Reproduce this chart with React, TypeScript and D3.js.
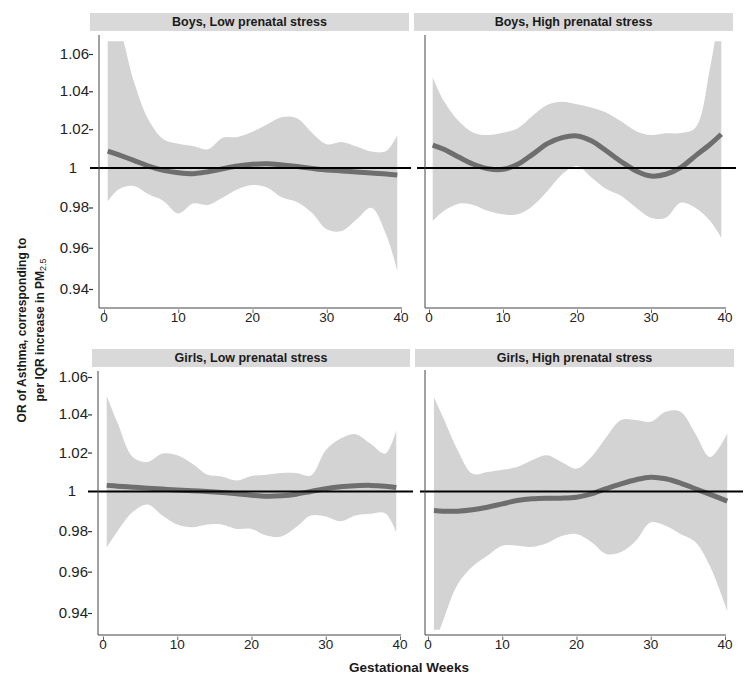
import React from "react";
import * as d3 from "d3";

// ---------- DATA ----------
const panelTitles = [
  "Boys, Low prenatal stress",
  "Boys, High prenatal stress",
  "Girls, Low prenatal stress",
  "Girls, High prenatal stress",
];

const weeks = [0.5, 2, 4, 6, 8, 10, 12, 14, 16, 18, 20, 22, 24, 26, 28, 30, 32, 34, 36, 38, 39.5];
const weeksGirlsHigh = [0.8, 2, 4, 6, 8, 10, 12, 14, 16, 18, 20, 22, 24, 26, 28, 30, 32, 34, 36, 38, 40.3];

const boysLowFit = [1.0087, 1.0067, 1.0039, 1.001, 0.9988, 0.9976, 0.9971, 0.9981, 0.9996, 1.001, 1.0019, 1.0022, 1.0015, 1.0007, 0.9998, 0.999, 0.9985, 0.998, 0.9974, 0.9969, 0.9964];
const boysLowUpper = [1.085, 1.075, 1.0455, 1.0249, 1.0148, 1.0125, 1.0113, 1.0096, 1.0156, 1.016, 1.0187, 1.0226, 1.0264, 1.0257, 1.0182, 1.0122, 1.0134, 1.011, 1.0084, 1.0087, 1.0169];
const boysLowLower = [0.983, 0.9892, 0.9908, 0.9866, 0.9833, 0.977, 0.982, 0.9813, 0.985, 0.9892, 0.9913, 0.99, 0.985, 0.9828, 0.9774, 0.9691, 0.9683, 0.974, 0.9799, 0.9666, 0.9487];

const boysHighFit = [1.0118, 1.0096, 1.0056, 1.0019, 0.9996, 0.9993, 1.0019, 1.007, 1.0125, 1.0156, 1.0165, 1.0139, 1.0087, 1.0032, 0.9985, 0.9959, 0.9968, 1.0002, 1.0062, 1.0122, 1.0174];
const boysHighUpper = [1.0473, 1.0349, 1.0243, 1.0182, 1.017, 1.0182, 1.0205, 1.027, 1.0328, 1.0345, 1.0331, 1.0313, 1.0287, 1.024, 1.019, 1.017, 1.0179, 1.018, 1.0208, 1.053, 1.09];
const boysHighLower = [0.9733, 0.9782, 0.9819, 0.9813, 0.9782, 0.9766, 0.9766, 0.9808, 0.9883, 0.9968, 1.001, 0.995, 0.9892, 0.9858, 0.9799, 0.9749, 0.9749, 0.9824, 0.9799, 0.9733, 0.965];

const girlsLowFit = [1.0031, 1.0027, 1.0022, 1.0017, 1.0012, 1.0007, 1.0003, 1.0, 0.9995, 0.9988, 0.9981, 0.9976, 0.9978, 0.9986, 1.0, 1.0014, 1.0024, 1.0029, 1.0031, 1.0027, 1.002];
const girlsLowUpper = [1.0498, 1.0352, 1.0177, 1.0151, 1.0195, 1.0186, 1.0143, 1.0087, 1.0077, 1.0056, 1.0079, 1.0086, 1.0094, 1.0094, 1.0082, 1.0212, 1.0273, 1.0296, 1.0247, 1.0195, 1.0317];
const girlsLowLower = [0.9719, 0.9802, 0.9896, 0.9934, 0.9878, 0.9833, 0.9819, 0.9833, 0.9833, 0.9811, 0.9811, 0.9778, 0.9773, 0.9819, 0.9878, 0.9873, 0.9849, 0.9878, 0.9887, 0.989, 0.9794];

const girlsHighFit = [0.9903, 0.99, 0.99, 0.9907, 0.992, 0.9937, 0.9954, 0.9963, 0.9966, 0.9966, 0.9971, 0.9988, 1.0014, 1.0039, 1.006, 1.0073, 1.0065, 1.0043, 1.0014, 0.9985, 0.9951];
const girlsHighUpper = [1.0491, 1.0387, 1.0212, 1.009, 1.0099, 1.0111, 1.0125, 1.016, 1.0186, 1.0151, 1.0117, 1.0177, 1.028, 1.037, 1.037, 1.0361, 1.0414, 1.0414, 1.0299, 1.0177, 1.0299];
const girlsHighLower = [0.925, 0.936, 0.9538, 0.9625, 0.9678, 0.9728, 0.9728, 0.9722, 0.974, 0.9776, 0.9786, 0.9746, 0.9687, 0.9696, 0.9752, 0.9844, 0.9827, 0.9786, 0.9746, 0.9625, 0.9409];

const yTicks = [0.94, 0.96, 0.98, 1, 1.02, 1.04, 1.06];
const xTicks = [0, 10, 20, 30, 40];
const xTitle = "Gestational Weeks";
const yTitleLine1 = "OR of Asthma, corresponding to";
const yTitleLine2 = "per IQR increase in PM";
const yTitleSub = "2.5";
const refValue = 1;

// ---------- LAYOUT ----------
type PanelLayout = {
  stripX0: number; stripX1: number; stripY0: number; stripY1: number;
  axisX: number; plotTop: number; plotBottom: number;
  xr: [number, number]; yr: [number, number];
  hx0: number; hx1: number; showY: boolean;
};

const layouts: PanelLayout[] = [
  { stripX0: 90, stripX1: 409, stripY0: 13, stripY1: 31, axisX: 99, plotTop: 35, plotBottom: 308, xr: [104, 401], yr: [289, 54], hx0: 90, hx1: 411, showY: true },
  { stripX0: 414, stripX1: 733, stripY0: 13, stripY1: 31, axisX: 425, plotTop: 35, plotBottom: 308, xr: [429, 725], yr: [289, 54], hx0: 417, hx1: 736, showY: false },
  { stripX0: 92, stripX1: 410, stripY0: 349, stripY1: 367, axisX: 98, plotTop: 371, plotBottom: 635, xr: [103, 400], yr: [613, 377], hx0: 88, hx1: 413, showY: true },
  { stripX0: 415, stripX1: 734, stripY0: 349, stripY1: 367, axisX: 425, plotTop: 370, plotBottom: 635, xr: [428, 725], yr: [613, 377], hx0: 420, hx1: 743, showY: false },
];

const panelData = [
  { w: weeks, fit: boysLowFit, up: boysLowUpper, lo: boysLowLower },
  { w: weeks, fit: boysHighFit, up: boysHighUpper, lo: boysHighLower },
  { w: weeks, fit: girlsLowFit, up: girlsLowUpper, lo: girlsLowLower },
  { w: weeksGirlsHigh, fit: girlsHighFit, up: girlsHighUpper, lo: girlsHighLower },
];

const FONT = "'Liberation Sans', Arial, Helvetica, sans-serif";

function Panel({ idx }: { idx: number }) {
  const L = layouts[idx];
  const D = panelData[idx];
  const x = d3.scaleLinear().domain([0, 40]).range(L.xr);
  const y = d3.scaleLog().domain([0.94, 1.06]).range(L.yr);
  const pts = D.w.map((w, i) => ({ w, fit: D.fit[i], up: D.up[i], lo: D.lo[i] }));
  const area = d3
    .area<any>()
    .x((d) => x(d.w))
    .y0((d) => y(d.lo))
    .y1((d) => y(d.up))
    .curve(d3.curveCatmullRom.alpha(0.5));
  const line = d3
    .line<any>()
    .x((d) => x(d.w))
    .y((d) => y(d.fit))
    .curve(d3.curveCatmullRom.alpha(0.5));
  const clipId = `clip-${idx}`;
  const clipTop = y(1.067);
  const clipBot = y(0.932);
  const y1 = y(refValue);
  return (
    <g>
      <defs>
        <clipPath id={clipId}>
          <rect x={L.axisX + 1} y={clipTop} width={L.xr[1] - L.axisX + 20} height={clipBot - clipTop} />
        </clipPath>
      </defs>
      <rect x={L.stripX0} y={L.stripY0} width={L.stripX1 - L.stripX0} height={L.stripY1 - L.stripY0} fill="#d9d9d9" />
      <text
        x={(L.stripX0 + L.stripX1) / 2}
        y={(L.stripY0 + L.stripY1) / 2 + 4.3}
        textAnchor="middle"
        fontSize={12.5}
        fontWeight="bold"
        fill="#1a1a1a"
      >
        {panelTitles[idx]}
      </text>
      <g clipPath={`url(#${clipId})`}>
        <path d={area(pts) || ""} fill="#d3d3d3" />
        <path d={line(pts) || ""} fill="none" stroke="#6e6e6e" strokeWidth={5} />
      </g>
      <line x1={L.hx0} x2={L.hx1} y1={y1} y2={y1} stroke="#000" strokeWidth={2} />
      {/* axes */}
      <line x1={L.axisX} x2={L.axisX} y1={L.plotTop} y2={L.plotBottom} stroke="#444" strokeWidth={1} />
      <line x1={L.axisX} x2={L.xr[1] + 1} y1={L.plotBottom} y2={L.plotBottom} stroke="#444" strokeWidth={1} />
      {xTicks.map((t) => (
        <g key={t}>
          <text x={x(t)} y={L.plotBottom + 14} textAnchor="middle" fontSize={13.5} fill="#222">
            {t}
          </text>
          <line x1={x(t) + 0.5} x2={x(t) + 0.5} y1={L.plotBottom + 1.5} y2={L.plotBottom + 5} stroke="#666" strokeWidth={1} />
        </g>
      ))}
      {L.showY &&
        yTicks.map((t) =>
          t === refValue ? (
            <text key={t} x={L.axisX - 22} y={y(t) + 5} textAnchor="end" fontSize={15} fill="#222">
              {t}
            </text>
          ) : (
            <g key={t}>
              <text x={L.axisX - 10} y={y(t) + 5} textAnchor="end" fontSize={15} fill="#222">
                {d3.format(".2f")(t)}
              </text>
              <line x1={L.axisX - 10} x2={L.axisX - 6} y1={y(t) + 0.5} y2={y(t) + 0.5} stroke="#333" strokeWidth={1.2} />
            </g>
          )
        )}
    </g>
  );
}

export default function App() {
  return (
    <svg
      width={754}
      height={686}
      style={{ position: "absolute", left: 0, top: 0, background: "#fff" }}
      fontFamily={FONT}
    >
      <rect x={0} y={0} width={754} height={686} fill="#fff" />
      {[0, 1, 2, 3].map((i) => (
        <Panel key={i} idx={i} />
      ))}
      <text x={409} y={672} textAnchor="middle" fontSize={13.5} fontWeight="bold" fill="#1a1a1a">
        {xTitle}
      </text>
      <text transform="translate(25.5,330) rotate(-90)" textAnchor="middle" fontSize={12} fontWeight="bold" fill="#1a1a1a">
        {yTitleLine1}
      </text>
      <text transform="translate(43.5,330) rotate(-90)" textAnchor="middle" fontSize={12} fontWeight="bold" fill="#1a1a1a">
        {yTitleLine2}
        <tspan fontSize={9} fontWeight="normal" dy={2}>
          {yTitleSub}
        </tspan>
      </text>
    </svg>
  );
}
